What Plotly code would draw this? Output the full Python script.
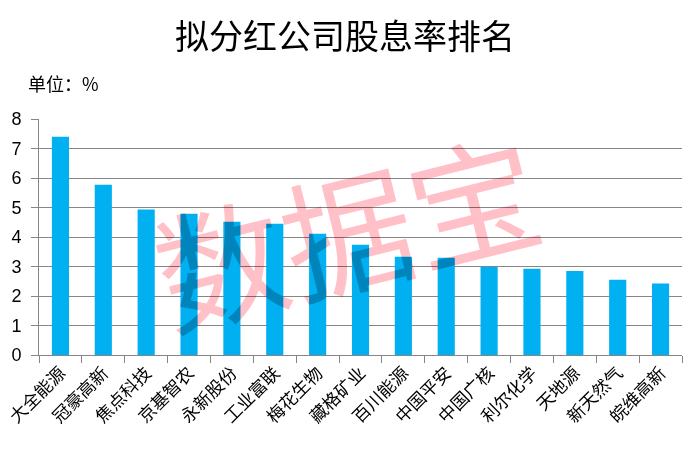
import plotly.graph_objects as go

categories = ["大全能源", "冠豪高新", "焦点科技", "京基智农", "永新股份", "工业富联", "梅花生物",
              "藏格矿业", "百川能源", "中国平安", "中国广核", "利尔化学", "天地源", "新天然气", "皖维高新"]
values = [7.40, 5.77, 4.93, 4.79, 4.52, 4.45, 4.11, 3.74, 3.33, 3.30, 2.99, 2.92, 2.85, 2.55, 2.42]
y_ticks = [0, 1, 2, 3, 4, 5, 6, 7, 8]

title_text = "拟分红公司股息率排名"
unit_text = "单位：%"
watermark_text = "数据宝"

GRID = "#868686"
CJK = "Noto Sans CJK SC"

fig = go.Figure(go.Bar(x=categories, y=values, marker_color="#00B0F0", marker_line_width=0))

fig.update_layout(
    width=690, height=450,
    margin=dict(l=39, r=8, t=119, b=95, autoexpand=False),
    paper_bgcolor="white", plot_bgcolor="white",
    bargap=0.6,
    showlegend=False,
    title=dict(text=title_text, x=0.5, xref="container", xanchor="center",
               y=1 - 37 / 450, yref="container", yanchor="middle", automargin=False,
               font=dict(family=CJK, size=34, color="black")),
    font=dict(family=CJK, color="black"),
)

fig.update_xaxes(
    type="category", showline=True, linecolor=GRID, linewidth=1, automargin=False,
    ticks="outside", tickson="boundaries", ticklen=7, tickcolor=GRID, tickwidth=1,
    tickangle=-45, tickfont=dict(family=CJK, size=17.5, color="black"),
    showgrid=False,
)
fig.update_yaxes(
    range=[0, 8], tickvals=y_ticks, showgrid=True, gridcolor=GRID, gridwidth=1,
    zeroline=False, showline=True, linecolor=GRID, linewidth=1, automargin=False,
    ticks="outside", ticklen=7, tickcolor=GRID, tickwidth=1,
    tickfont=dict(family="Liberation Sans", size=18, color="black"),
    ticklabelstandoff=6,
)

fig.add_annotation(text=unit_text, xref="paper", yref="paper",
                   x=-13 / 643, y=(355 - 83) / 236, xanchor="left", yanchor="middle",
                   showarrow=False, font=dict(family=CJK, size=18, color="black"))

fig.add_annotation(text=watermark_text, xref="paper", yref="paper",
                   x=(346 - 39) / 643, y=(355 - 227) / 236, xanchor="center", yanchor="middle",
                   textangle=-14, showarrow=False,
                   font=dict(family=CJK, size=130, color="#FFC0C8"))

post = """
document.body.style.margin = '0';
var info = document.querySelector('.infolayer');
if (info) {
  var s = info.closest('svg');
  if (s) { s.style.mixBlendMode = 'multiply'; }
}
"""

fig.write_html("out.html", post_script=post, config={"displayModeBar": False})
